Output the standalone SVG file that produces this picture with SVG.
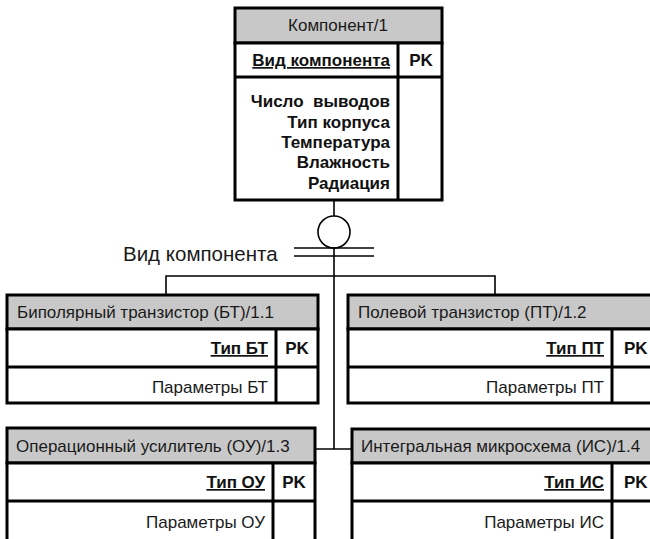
<svg xmlns="http://www.w3.org/2000/svg" width="650" height="539" viewBox="0 0 650 539">
<style>
.box{fill:#fff;stroke:#000;stroke-width:3}
.hdr{fill:#c8c8c8;stroke:#000;stroke-width:3}
.ln{stroke:#000;stroke-width:3;fill:none}
.con{stroke:#000;stroke-width:1.6;fill:none}
.t{font-family:"Liberation Sans",Arial,sans-serif;font-size:17px;fill:#1a1a1a}
.b{font-family:"Liberation Sans",Arial,sans-serif;font-size:17px;font-weight:bold;fill:#111}
.u{text-decoration:underline}
.r{text-anchor:end}
.c{text-anchor:middle}
</style>
<rect width="650" height="539" fill="#fff"/>
<g id="connectors">
<line class="con" x1="334" y1="200" x2="334" y2="216"/>
<circle class="con" cx="334" cy="232" r="16" fill="#fff"/>
<line class="con" x1="294" y1="248" x2="374" y2="248"/>
<line class="con" x1="294" y1="256" x2="374" y2="256"/>
<line class="con" x1="334" y1="248" x2="334" y2="449"/>
<polyline class="con" points="166,295 166,276 495,276 495,295"/>
<line class="con" x1="315" y1="449" x2="352" y2="449"/>
<text class="t" x="123" y="261" style="font-size:20.5px">Вид компонента</text>
</g>
<g id="komponent">
<rect class="hdr" x="235" y="8" width="207" height="35"/>
<rect class="box" x="235" y="43" width="207" height="157"/>
<line class="ln" x1="235" y1="77" x2="442" y2="77"/>
<line class="ln" x1="398" y1="43" x2="398" y2="200"/>
<text class="t c" x="338" y="31">Компонент/1</text>
<text class="b u r" x="390" y="66">Вид компонента</text>
<text class="b c" x="421" y="66">PK</text>
<text class="b r" x="390" y="107" xml:space="preserve">Число  выводов</text>
<text class="b r" x="390" y="128">Тип корпуса</text>
<text class="b r" x="390" y="148">Температура</text>
<text class="b r" x="390" y="168">Влажность</text>
<text class="b r" x="390" y="189">Радиация</text>
</g>
<g id="bt">
<rect class="hdr" x="7" y="295" width="311" height="34"/>
<rect class="box" x="7" y="329" width="311" height="74"/>
<line class="ln" x1="7" y1="367" x2="318" y2="367"/>
<line class="ln" x1="276" y1="329" x2="276" y2="403"/>
<text class="t" x="17" y="318">Биполярный транзистор (БТ)/1.1</text>
<text class="b u r" x="268" y="354">Тип БТ</text>
<text class="b c" x="297" y="354">PK</text>
<text class="t r" x="268" y="393">Параметры БТ</text>
</g>
<g id="pt">
<rect class="hdr" x="348" y="295" width="306" height="34"/>
<rect class="box" x="348" y="329" width="306" height="74"/>
<line class="ln" x1="348" y1="367" x2="654" y2="367"/>
<line class="ln" x1="612" y1="329" x2="612" y2="403"/>
<text class="t" x="358" y="318">Полевой транзистор (ПТ)/1.2</text>
<text class="b u r" x="604" y="354">Тип ПТ</text>
<text class="b" x="624" y="354">PK</text>
<text class="t r" x="604" y="393">Параметры ПТ</text>
</g>
<g id="ou">
<rect class="hdr" x="7" y="428" width="308" height="35"/>
<rect class="box" x="7" y="463" width="308" height="90"/>
<line class="ln" x1="7" y1="501" x2="315" y2="501"/>
<line class="ln" x1="273" y1="463" x2="273" y2="553"/>
<text class="t" x="16" y="452">Операционный усилитель (ОУ)/1.3</text>
<text class="b u r" x="265" y="488">Тип ОУ</text>
<text class="b c" x="294" y="488">PK</text>
<text class="t r" x="265" y="528">Параметры ОУ</text>
</g>
<g id="is">
<rect class="hdr" x="352" y="429" width="302" height="34"/>
<rect class="box" x="352" y="463" width="302" height="90"/>
<line class="ln" x1="352" y1="501" x2="654" y2="501"/>
<line class="ln" x1="612" y1="463" x2="612" y2="553"/>
<text class="t" x="361" y="452">Интегральная микросхема (ИС)/1.4</text>
<text class="b u r" x="604" y="488">Тип ИС</text>
<text class="b" x="624" y="488">PK</text>
<text class="t r" x="604" y="528">Параметры ИС</text>
</g>
</svg>
